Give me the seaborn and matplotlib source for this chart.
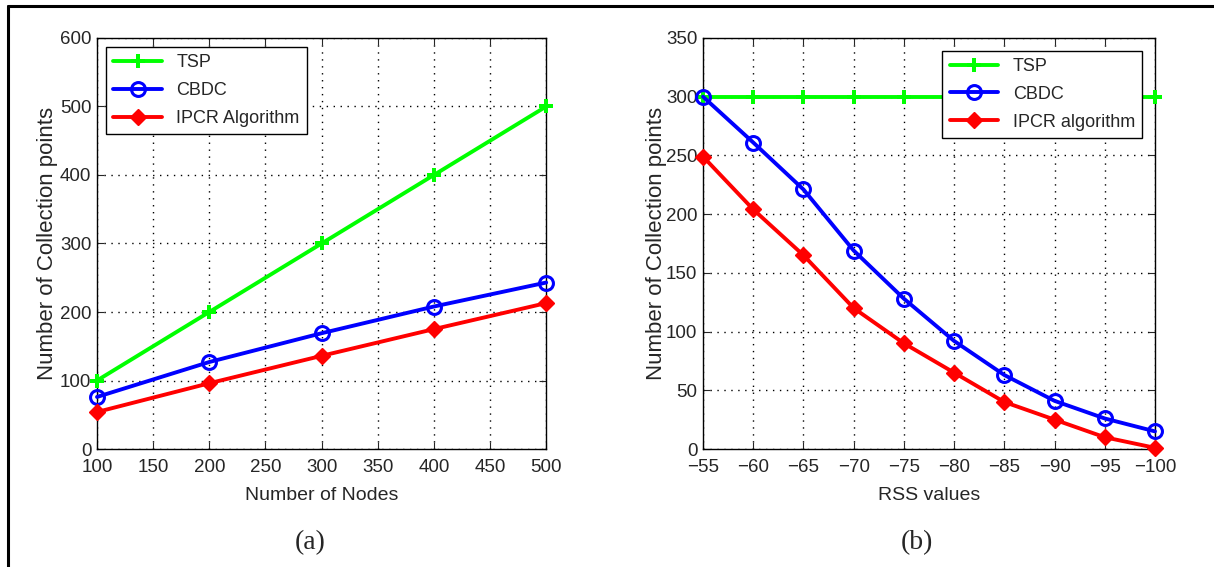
import matplotlib
matplotlib.use("Agg")
import matplotlib.pyplot as plt
from matplotlib.lines import Line2D
import seaborn as sns

# (a) collection points vs number of nodes
nodes = [100, 200, 300, 400, 500]
tsp_a = [100, 200, 300, 400, 500]
cbdc_a = [76, 127, 169, 208, 243]
ipcr_a = [54, 96, 136, 175, 213]

# (b) collection points vs RSS threshold
rss = [-55, -60, -65, -70, -75, -80, -85, -90, -95, -100]
tsp_b = [300, 300, 300, 300, 300, 300, 300, 300, 300, 300]
cbdc_b = [300, 261, 221, 169, 128, 92, 63, 41, 26, 15]
ipcr_b = [249, 204, 165, 120, 90, 65, 40, 25, 10, 1]

sns.set_style("ticks")
plt.rcParams["font.family"] = ["Liberation Sans", "DejaVu Sans"]
plt.rcParams["xtick.direction"] = "in"
plt.rcParams["ytick.direction"] = "in"

fig = plt.figure(figsize=(12.14, 5.67), dpi=100)
ax1 = fig.add_axes([0.0799, 0.2081, 0.370, 0.7249])
ax2 = fig.add_axes([0.5791, 0.2081, 0.3723, 0.7249])


def draw(ax, x, tsp, cbdc, ipcr, ipcr_name):
    sns.lineplot(x=x, y=tsp, ax=ax, color="#00ff00", lw=2.8, marker="P",
                 markersize=10, markeredgecolor="#00ff00", markeredgewidth=0,
                 label="TSP", clip_on=False, zorder=3)
    sns.lineplot(x=x, y=cbdc, ax=ax, color="#0000ff", lw=2.8, marker="o",
                 markersize=10, markerfacecolor="none", markeredgecolor="#0000ff",
                 markeredgewidth=2.2, label="CBDC", clip_on=False, zorder=4)
    sns.lineplot(x=x, y=ipcr, ax=ax, color="#ff0000", lw=2.8, marker="D",
                 markersize=8, markeredgecolor="#ff0000", markeredgewidth=1,
                 label=ipcr_name, clip_on=False, zorder=5)
    ax.grid(True, linestyle=(0, (1, 4)), color="black", linewidth=1)
    ax.tick_params(labelsize=13.5, top=True, right=True, length=5, width=0.8)
    ax.tick_params(axis="x", pad=7)
    ax.tick_params(axis="y", pad=4)
    for s in ax.spines.values():
        s.set_linewidth(1.0)
        s.set_color("black")
    ax.set_ylabel("Number of Collection points", fontsize=16)


draw(ax1, nodes, tsp_a, cbdc_a, ipcr_a, "IPCR Algorithm")
ax1.set_xlim(100, 500)
ax1.set_ylim(0, 600)
ax1.set_xticks(range(100, 501, 50))
ax1.set_yticks(range(0, 601, 100))
ax1.set_xlabel("Number of Nodes", fontsize=14)
ax1.xaxis.set_label_coords(0.5, -0.092)
ax1.yaxis.set_label_coords(-0.087, 0.5)
ax1.legend(loc="upper left", fontsize=13, frameon=True, fancybox=False,
           edgecolor="black", framealpha=1, handlelength=2.7,
           borderaxespad=0.5, labelspacing=0.6)

draw(ax2, rss, tsp_b, cbdc_b, ipcr_b, "IPCR algorithm")
ax2.set_xlim(-55, -100)
ax2.set_ylim(0, 350)
ax2.set_xticks(range(-55, -101, -5))
ax2.set_yticks(range(0, 351, 50))
ax2.set_xlabel("RSS values", fontsize=14)
ax2.xaxis.set_label_coords(0.5, -0.092)
ax2.yaxis.set_label_coords(-0.080, 0.5)
ax2.legend(loc="upper right", fontsize=13, frameon=True, fancybox=False,
           edgecolor="black", framealpha=1, handlelength=2.7,
           borderaxespad=0.7, labelspacing=0.6)

serif = ["Liberation Serif", "DejaVu Serif"]
fig.text(310 / 1214, 1 - 543 / 567, "(a)", fontsize=20, family=serif,
         ha="center", va="center")
fig.text(917 / 1214, 1 - 543 / 567, "(b)", fontsize=20, family=serif,
         ha="center", va="center")

# outer frame (top and left edges)
fig.add_artist(Line2D([7.5 / 1214, 1], [1 - 6 / 567, 1 - 6 / 567],
                      color="black", lw=2.2, transform=fig.transFigure))
fig.add_artist(Line2D([7.5 / 1214, 7.5 / 1214], [0, 1 - 6 / 567],
                      color="black", lw=2.2, transform=fig.transFigure))

fig.savefig("out.png", dpi=100, facecolor="white")
